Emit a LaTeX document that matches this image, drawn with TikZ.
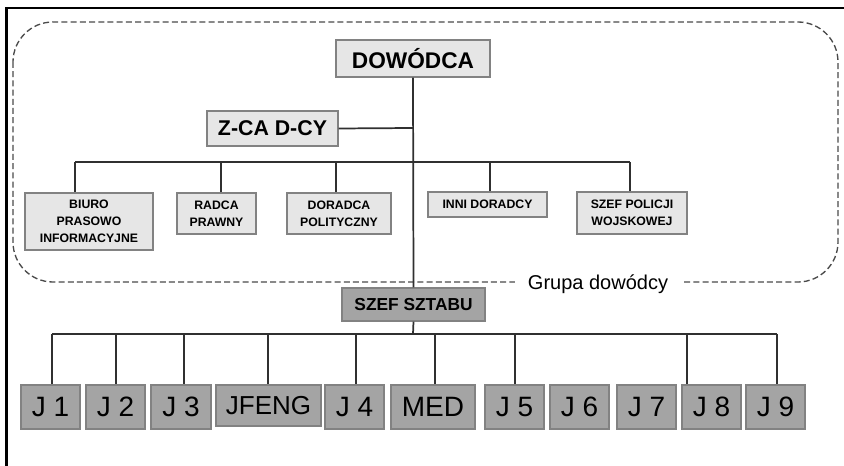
\documentclass[tikz,border=0pt]{standalone}
\usepackage{fontspec}
\setmainfont{Liberation Sans}
\usetikzlibrary{calc}
\definecolor{lightbox}{HTML}{E6E6E6}
\definecolor{darkbox}{HTML}{A4A4A4}
\definecolor{boxedge}{HTML}{828282}
\definecolor{wirecol}{HTML}{303030}
\definecolor{dashcol}{HTML}{4A4A4A}
\begin{document}
\begin{tikzpicture}[x=0.75pt,y=-0.75pt,
  sz/.style 2 args={minimum width=#1*0.75pt, minimum height=#2*0.75pt},
  lightnode/.style={draw=boxedge, line width=1pt, fill=lightbox, inner sep=0pt, align=center, text=black},
  darknode/.style={draw=boxedge, line width=1pt, fill=darkbox, inner sep=0pt, align=center, text=black},
  bigbold/.style={font=\fontsize{17}{20}\selectfont\bfseries},
  smallbold/.style={font=\fontsize{9.2}{12.6}\selectfont\bfseries},
  jbox/.style={darknode, sz={59}{44}, font=\fontsize{21}{24}\selectfont},
  wire/.style={draw=wirecol, line width=1.3pt},
  groupline/.style={draw=dashcol, line width=1pt, dash pattern=on 4.5pt off 2.4pt},
]
\useasboundingbox (0,0) rectangle (844,466);

% frame along the top and left edges
\draw[line width=2.2pt] (6.5,466) -- (6.5,8) -- (844,8);

% commander's group
\draw[groupline, rounded corners=30pt] (13,22) rectangle (838,282);
\node[fill=white, inner xsep=10pt, inner ysep=1pt, font=\fontsize{15}{18}\selectfont]
  (grp) at (598,284) {Grupa dowódcy};

% command staff
\node[lightnode, bigbold, sz={154}{37}] (dow) at (413,58.5) {DOWÓDCA};
\node[lightnode, font=\fontsize{16}{19}\selectfont\bfseries, sz={131}{35}] (zca) at (272.5,128.5) {Z-CA D-CY};

\node[lightnode, smallbold, sz={128}{57}] (biuro) at (89,221.5) {BIURO\\PRASOWO\\INFORMACYJNE};
\node[lightnode, smallbold, sz={79}{41}] (radca) at (216.5,213.5) {RADCA\\PRAWNY};
\node[lightnode, smallbold, sz={104}{41}] (dorad) at (339,213.5) {DORADCA\\POLITYCZNY};
\node[lightnode, smallbold, sz={119}{25}] (inni) at (487.5,204.5) {INNI DORADCY};
\node[lightnode, smallbold, sz={110}{42}] (policja) at (632,213) {SZEF POLICJI\\WOJSKOWEJ};

\node[darknode, font=\fontsize{13}{16}\selectfont\bfseries, sz={143}{33}] (szef) at (413.5,304.5) {SZEF SZTABU};

% staff directorates
\node[jbox] (j1) at (50.5,407) {J 1};
\node[jbox] (j2) at (115.5,407) {J 2};
\node[jbox, sz={60}{44}] (j3) at (181,407) {J 3};
\node[jbox, sz={105}{41}, font=\fontsize{19.5}{24}\selectfont] (jfeng) at (268.5,405.5) {JFENG};
\node[jbox] (j4) at (354.5,407) {J 4};
\node[jbox, sz={84}{44}] (med) at (433,407) {MED};
\node[jbox] (j5) at (514.5,407) {J 5};
\node[jbox] (j6) at (579.5,407) {J 6};
\node[jbox] (j7) at (646.5,407) {J 7};
\node[jbox] (j8) at (711.5,407) {J 8};
\node[jbox] (j9) at (775.5,407) {J 9};

% spine and deputy
\coordinate (hub) at (413,128);
\coordinate (low) at (413,334);
\draw[wire] (dow.south) -- (szef.north);
\draw[wire] (zca.east) -- (hub);

% advisers' bus
\coordinate (a1) at (75,162);
\coordinate (a2) at (221,162);
\coordinate (a3) at (336,162);
\coordinate (a4) at (490,162);
\coordinate (a5) at (630,162);
\draw[wire] (a1) -- (a5);
\draw[wire] (a1) -- (a1 |- biuro.north);
\draw[wire] (a2) -- (a2 |- radca.north);
\draw[wire] (a3) -- (a3 |- dorad.north);
\draw[wire] (a4) -- (a4 |- inni.north);
\draw[wire] (a5) -- (a5 |- policja.north);

% directorates' bus
\coordinate (b1) at (52,334);
\coordinate (b2) at (116,334);
\coordinate (b3) at (184,334);
\coordinate (b4) at (268,334);
\coordinate (b5) at (356,334);
\coordinate (b6) at (435,334);
\coordinate (b7) at (515,334);
\coordinate (b8) at (687,334);
\coordinate (b9) at (777,334);
\draw[wire] (szef.south) -- (low);
\draw[wire] (b1) -- (b9);
\draw[wire] (b1) -- (b1 |- j1.north);
\draw[wire] (b2) -- (b2 |- j2.north);
\draw[wire] (b3) -- (b3 |- j3.north);
\draw[wire] (b4) -- (b4 |- jfeng.north);
\draw[wire] (b5) -- (b5 |- j4.north);
\draw[wire] (b6) -- (b6 |- med.north);
\draw[wire] (b7) -- (b7 |- j5.north);
\draw[wire] (b8) -- (b8 |- j8.north);
\draw[wire] (b9) -- (b9 |- j9.north);
\end{tikzpicture}
\end{document}
